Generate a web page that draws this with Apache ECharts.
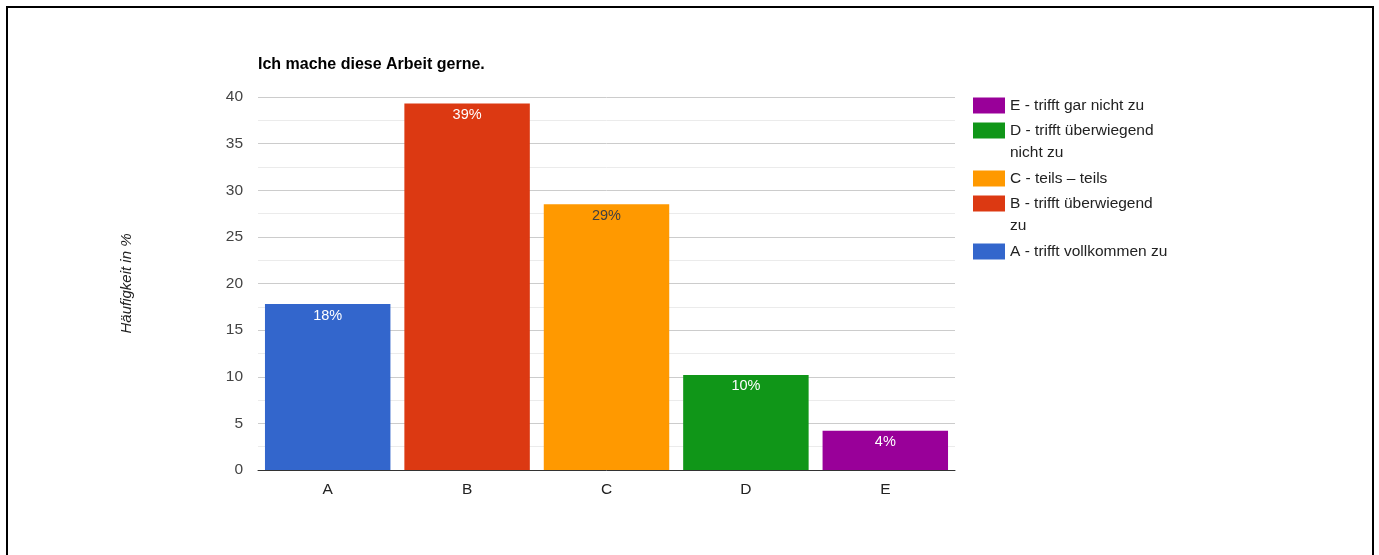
<!DOCTYPE html>
<html>
<head>
<meta charset="utf-8">
<script src="https://cdn.jsdelivr.net/npm/echarts@6/dist/echarts.min.js"></script>
<style>
html,body{margin:0;padding:0;background:#fff;}
#chart{width:1379px;height:555px;}
</style>
</head>
<body>
<div id="chart"></div>
<script>
const titleText = 'Ich mache diese Arbeit gerne.';
const yAxisName = 'Häufigkeit in %';
const categories = ['A', 'B', 'C', 'D', 'E'];
const seriesNames = [
  'A - trifft vollkommen zu',
  'B - trifft überwiegend zu',
  'C - teils – teils',
  'D - trifft überwiegend nicht zu',
  'E - trifft gar nicht zu'
];
const values = [17.8, 39.3, 28.5, 10.2, 4.2];
const colors = ['#3366cc', '#dc3912', '#ff9900', '#109618', '#990099'];
const labelColors = ['#ffffff', '#ffffff', '#404040', '#ffffff', '#ffffff'];
const yTicks = { min: 0, max: 40, interval: 5 };

const FONT = '"Liberation Sans", Arial, sans-serif';

const series = seriesNames.map((name, i) => ({
  name: name,
  type: 'bar',
  stack: 'total',
  barWidth: '90%',
  itemStyle: { color: colors[i] },
  label: {
    show: true,
    position: 'insideTop',
    distance: 4,
    color: labelColors[i],
    fontFamily: FONT,
    fontSize: 14.5,
    formatter: p => Math.round(p.value) + '%'
  },
  data: categories.map((c, j) => (j === i ? values[i] : '-'))
}));

// legend: one component per entry (top to bottom: E..A), icon aligned with first text line
const legendOrder = seriesNames.slice().reverse();
const legendIconTop = [97, 122, 170, 195, 243];
const wrapName = n => n.replace('überwiegend ', 'überwiegend\n');
const legends = legendOrder.map((n, k) => {
  const wrapped = wrapName(n) !== n;
  return {
    orient: 'vertical',
    left: 973,
    top: legendIconTop[k] - (wrapped ? 26 : 4),
    padding: 0,
    itemWidth: 32,
    itemHeight: 16,
    icon: 'rect',
    selectedMode: false,
    formatter: name => (wrapped ? '\n' + wrapName(name) : name),
    textStyle: { fontFamily: FONT, fontSize: 15.5, color: '#222222', lineHeight: 22, padding: [3, 0, 0, 0] },
    data: [n]
  };
});

const chart = echarts.init(document.getElementById('chart'), null, { renderer: 'canvas' });
chart.setOption({
  animation: false,
  backgroundColor: '#ffffff',
  title: {
    text: titleText,
    left: 258,
    top: 57,
    padding: 0,
    textStyle: { fontFamily: FONT, fontSize: 16, fontWeight: 'bold', color: '#000000' }
  },
  legend: legends,
  grid: { left: 258, right: 424, top: 97, bottom: 85, containLabel: false },
  xAxis: {
    type: 'category',
    data: categories,
    axisTick: { show: false },
    axisLine: { lineStyle: { color: '#333333', width: 1 } },
    axisLabel: { margin: 12, fontFamily: FONT, fontSize: 15.5, color: '#222222' }
  },
  yAxis: {
    type: 'value',
    min: yTicks.min,
    max: yTicks.max,
    interval: yTicks.interval,
    name: yAxisName,
    nameLocation: 'middle',
    nameGap: 124,
    nameTextStyle: { fontFamily: FONT, fontSize: 15, fontStyle: 'italic', color: '#222222' },
    axisLine: { show: false },
    axisTick: { show: false },
    axisLabel: { margin: 15, fontFamily: FONT, fontSize: 15.5, color: '#444444' },
    splitLine: { lineStyle: { color: '#cccccc', width: 1 } },
    minorTick: { show: false, splitNumber: 2 },
    minorSplitLine: { show: true, lineStyle: { color: '#ebebeb', width: 1 } }
  },
  graphic: [{
    type: 'polyline',
    silent: true,
    shape: { points: [[7, 555], [7, 7], [1373, 7], [1373, 555]] },
    style: { stroke: '#000000', lineWidth: 2, fill: null }
  }],
  series: series
});
</script>
</body>
</html>
